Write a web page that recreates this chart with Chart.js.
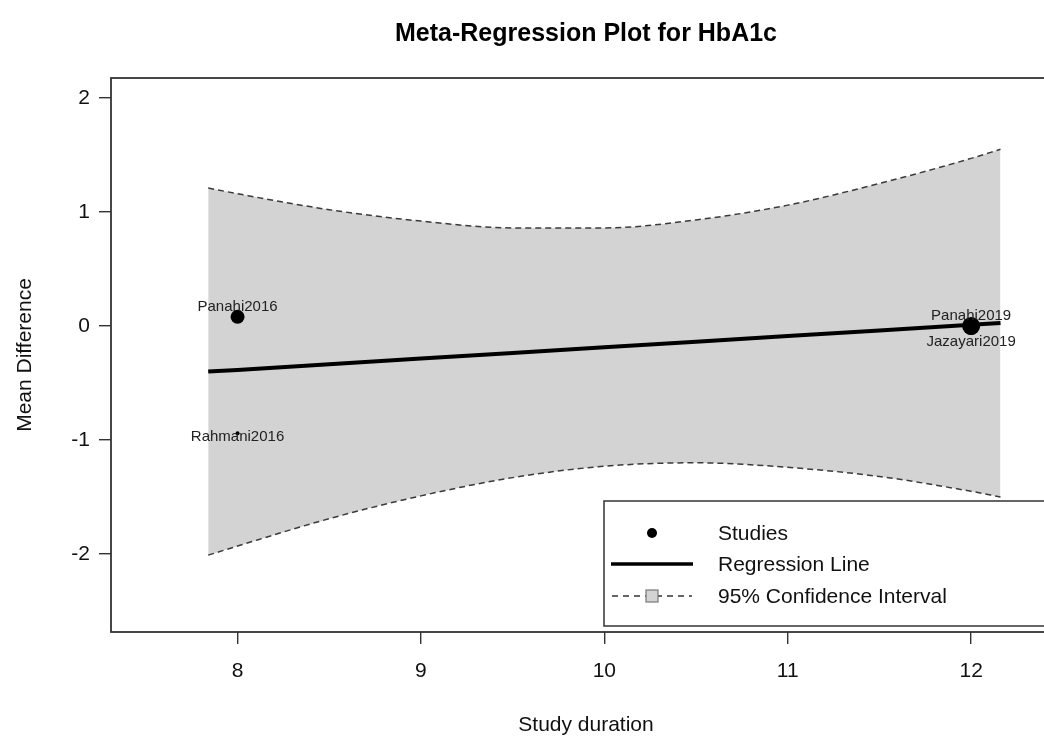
<!DOCTYPE html>
<html>
<head>
<meta charset="utf-8">
<script src="https://cdn.jsdelivr.net/npm/chart.js@4.4.1/dist/chart.umd.min.js"></script>
<style>
  html, body { margin: 0; padding: 0; background: #fff; overflow: hidden; }
  #wrap { width: 1070px; height: 736px; }
</style>
</head>
<body>
<div id="wrap"><canvas id="myChart" width="1070" height="736"></canvas></div>
<script>
// studies
const studyNames = ['Panahi2016', 'Rahmani2016', 'Panahi2019', 'Jazayari2019'];
const studyDuration = [8, 8, 12, 12];
const studyEffect = [0.08, -0.94, 0.0, -0.01];

// fitted line and 95% CI
const fitDuration = [7.84, 8, 8.5, 9, 9.5, 10, 10.5, 11, 11.5, 12, 12.16];
const fitLine = [-0.400, -0.385, -0.335, -0.286, -0.236, -0.187, -0.138, -0.088, -0.039, 0.010, 0.026];
const ciUpper = [1.21, 1.16, 1.02, 0.92, 0.86, 0.86, 0.93, 1.06, 1.25, 1.47, 1.55];
const ciLower = [-2.01, -1.93, -1.69, -1.49, -1.33, -1.23, -1.20, -1.24, -1.32, -1.45, -1.50];

const xTicks = [8, 9, 10, 11, 12];
const yTicks = [-2, -1, 0, 1, 2];
const legendLabels = ['Studies', 'Regression Line', '95% Confidence Interval'];

// marker sizes and label nudges (px)
const pointSizes = [7, 2, 9, 8];
const labelShift = [-10, 4, -10, 15];

Chart.defaults.font.family = "'Liberation Sans', Arial, Helvetica, sans-serif";
Chart.defaults.color = '#111';

const ctx = document.getElementById('myChart').getContext('2d');

const xy = (xs, ys) => xs.map((x, i) => ({ x: x, y: ys[i] }));

// box round the plot region
const framePlugin = {
  id: 'frame',
  afterDraw(chart) {
    const a = chart.chartArea;
    const c = chart.ctx;
    c.save();
    c.strokeStyle = '#333';
    c.lineWidth = 1.8;
    c.strokeRect(a.left, a.top, a.right - a.left, a.bottom - a.top);
    c.restore();
  }
};

// study name labels
const labelPlugin = {
  id: 'studyLabels',
  afterDatasetsDraw(chart) {
    const c = chart.ctx;
    const xs = chart.scales.x, ys = chart.scales.y;
    c.save();
    c.font = "15px 'Liberation Sans', Arial, sans-serif";
    c.fillStyle = '#222';
    c.textAlign = 'center';
    c.textBaseline = 'middle';
    studyNames.forEach((name, i) => {
      const px = xs.getPixelForValue(studyDuration[i]);
      const py = ys.getPixelForValue(studyEffect[i]);
      c.fillText(name, px, py + labelShift[i]);
    });
    c.restore();
  }
};

// R style legend, bottom right
const legendPlugin = {
  id: 'rLegend',
  afterDraw(chart) {
    const a = chart.chartArea;
    const c = chart.ctx;
    const w = 457, h = 125;
    const left = a.right - w, top = a.bottom - 6 - h;
    c.save();
    c.fillStyle = '#fff';
    c.fillRect(left, top, w, h);
    c.strokeStyle = '#333';
    c.lineWidth = 1.5;
    c.strokeRect(left, top, w, h);

    const sx = left + 48;
    const rows = [top + 32, top + 63, top + 95];
    // studies dot
    c.fillStyle = '#000';
    c.beginPath();
    c.arc(sx, rows[0], 5, 0, Math.PI * 2);
    c.fill();
    // regression line
    c.strokeStyle = '#000';
    c.lineWidth = 3.5;
    c.beginPath();
    c.moveTo(sx - 41, rows[1]);
    c.lineTo(sx + 41, rows[1]);
    c.stroke();
    // CI
    c.strokeStyle = '#333';
    c.lineWidth = 1.3;
    c.setLineDash([6, 5]);
    c.beginPath();
    c.moveTo(sx - 40, rows[2]);
    c.lineTo(sx + 40, rows[2]);
    c.stroke();
    c.setLineDash([]);
    c.fillStyle = '#d3d3d3';
    c.fillRect(sx - 6, rows[2] - 6, 12, 12);
    c.strokeStyle = '#777';
    c.lineWidth = 1.2;
    c.strokeRect(sx - 6, rows[2] - 6, 12, 12);

    c.fillStyle = '#111';
    c.font = "21px 'Liberation Sans', Arial, sans-serif";
    c.textAlign = 'left';
    c.textBaseline = 'middle';
    legendLabels.forEach((t, i) => c.fillText(t, left + 114, rows[i] + 1));
    c.restore();
  }
};

const myChart = new Chart(ctx, {
  type: 'scatter',
  data: {
    datasets: [
      {
        label: 'CI upper',
        data: xy(fitDuration, ciUpper),
        showLine: true,
        borderColor: '#3a3a3a',
        borderWidth: 1.5,
        borderDash: [6, 4],
        backgroundColor: '#d3d3d3',
        fill: '+1',
        pointRadius: 0,
        cubicInterpolationMode: 'monotone',
        order: 4
      },
      {
        label: 'CI lower',
        data: xy(fitDuration, ciLower),
        showLine: true,
        borderColor: '#3a3a3a',
        borderWidth: 1.5,
        borderDash: [6, 4],
        fill: false,
        pointRadius: 0,
        cubicInterpolationMode: 'monotone',
        order: 3
      },
      {
        label: 'Regression Line',
        data: xy(fitDuration, fitLine),
        showLine: true,
        borderColor: '#000',
        borderWidth: 4,
        pointRadius: 0,
        order: 2
      },
      {
        label: 'Studies',
        data: xy(studyDuration, studyEffect),
        backgroundColor: '#000',
        borderWidth: 0,
        pointRadius: pointSizes,
        order: 1
      }
    ]
  },
  options: {
    responsive: false,
    animation: false,
    events: [],
    layout: { padding: { top: 0, right: 5, bottom: 0, left: 0 } },
    plugins: {
      legend: { display: false },
      tooltip: { enabled: false },
      title: {
        display: true,
        fullSize: false,
        text: 'Meta-Regression Plot for HbA1c',
        color: '#000',
        font: { size: 25, weight: 'bold' },
        padding: { top: 19, bottom: 29 }
      }
    },
    scales: {
      x: {
        type: 'linear',
        min: 7.31,
        max: 12.49,
        afterBuildTicks: s => { s.ticks = xTicks.map(v => ({ value: v })); },
        afterFit: s => { s.height = 104; },
        grid: { drawOnChartArea: false, drawTicks: true, tickLength: 12, color: '#333', lineWidth: 1.4 },
        border: { display: false },
        ticks: { padding: 15, color: '#111', font: { size: 21 } },
        title: {
          display: true,
          text: 'Study duration',
          color: '#111',
          font: { size: 21 },
          padding: { top: 0, bottom: -2 }
        }
      },
      y: {
        type: 'linear',
        min: -2.684,
        max: 2.175,
        afterBuildTicks: s => { s.ticks = yTicks.map(v => ({ value: v })); },
        afterFit: s => { s.width = 111; },
        grid: { drawOnChartArea: false, drawTicks: true, tickLength: 12, color: '#333', lineWidth: 1.4 },
        border: { display: false },
        ticks: { padding: 9, color: '#111', font: { size: 21 } },
        title: {
          display: true,
          text: 'Mean Difference',
          color: '#111',
          font: { size: 21 },
          padding: { top: 13, bottom: 0 }
        }
      }
    }
  },
  plugins: [labelPlugin, framePlugin, legendPlugin]
});
</script>
</body>
</html>
